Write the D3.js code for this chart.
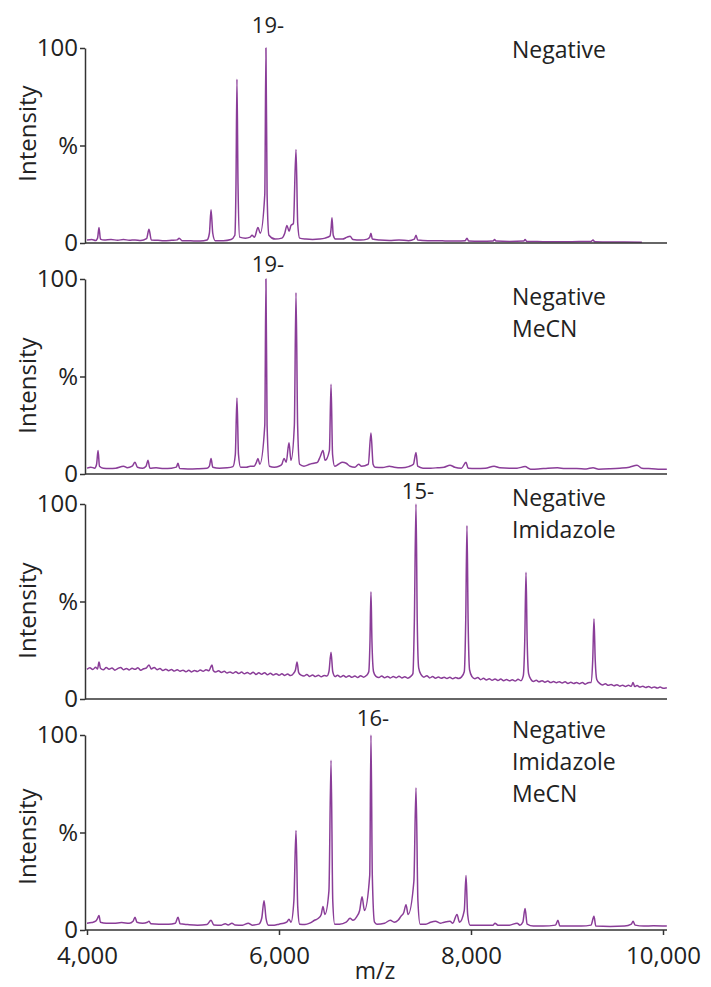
<!DOCTYPE html>
<html>
<head>
<meta charset="utf-8">
<script src="https://cdn.jsdelivr.net/npm/d3@7"></script>
<style>
  body { margin: 0; background: #fff; }
  svg text { font-family: "Open Sans", "Noto Sans", sans-serif; fill: #222; }
</style>
</head>
<body>
<svg class="js-graph" width="711" height="987"></svg>
<script>
(function myModule(d3) {
  /* <DATA> [m/z, intensity %] */
  var negative = [
    [4000, 1.5], [4050, 1.8], [4090, 1.3], [4110, 2.5], [4125, 8], [4140, 2], [4180, 1.5], [4250, 1.8],
    [4320, 1.4], [4380, 1.8], [4440, 1.4], [4500, 1.6], [4560, 1.3], [4620, 2.2], [4646, 7], [4670, 1.5],
    [4740, 1.4], [4800, 1.2], [4880, 1.4], [4940, 1.6], [4960, 2.5], [4990, 1.2], [5080, 1.1], [5180, 1],
    [5250, 1.5], [5275, 5], [5292, 17], [5310, 5], [5335, 1.2], [5420, 1.2], [5500, 1.8], [5540, 4],
    [5552, 30], [5562, 84], [5573, 30], [5590, 3], [5650, 2.5], [5700, 3], [5719, 4], [5745, 3],
    [5781, 8], [5805, 5], [5852, 25], [5864, 100], [5876, 25], [5895, 4], [5960, 2], [6030, 2.5],
    [6060, 5], [6083, 9], [6105, 6], [6125, 9], [6150, 10], [6177, 48], [6195, 10], [6215, 2.5],
    [6280, 2], [6350, 1.8], [6420, 2], [6480, 2.5], [6530, 3.5], [6542, 7], [6552, 13], [6565, 4],
    [6590, 2], [6660, 2], [6710, 3], [6740, 3.5], [6770, 1.8], [6850, 1.5], [6920, 2], [6945, 3],
    [6958, 5], [6972, 2], [7050, 1.5], [7150, 1.3], [7250, 1.5], [7350, 1.2], [7410, 2], [7427, 4],
    [7445, 1.5], [7550, 1.2], [7650, 1.2], [7750, 1], [7850, 1], [7940, 1.2], [7958, 2.5], [7975, 1],
    [8100, 0.9], [8230, 1], [8245, 1.8], [8260, 1], [8400, 0.8], [8550, 1], [8563, 1.8], [8580, 0.8],
    [8750, 0.7], [8900, 0.6], [9050, 0.7], [9250, 0.8], [9271, 1.5], [9290, 0.6], [9450, 0.5],
    [9600, 0.5], [9780, 0.4]
  ];

  var negativeMeCN = [
    [4000, 3], [4040, 3.5], [4080, 3], [4100, 5], [4115, 12], [4130, 4], [4170, 3], [4230, 2.8],
    [4300, 3], [4380, 4], [4420, 3.2], [4470, 4], [4500, 6], [4525, 3.5], [4580, 3], [4615, 4],
    [4635, 7], [4655, 3], [4720, 3.2], [4800, 2.8], [4880, 3], [4930, 3.5], [4948, 5.5], [4965, 2.8],
    [5050, 2.6], [5150, 2.7], [5250, 3], [5275, 4], [5292, 8], [5310, 3.5], [5380, 3], [5460, 3.2],
    [5520, 3.8], [5545, 10], [5562, 39], [5578, 10], [5600, 3.5], [5660, 3.5], [5700, 4], [5740, 4],
    [5765, 6], [5781, 8], [5800, 5], [5852, 25], [5864, 100], [5876, 25], [5900, 4], [5950, 3.5],
    [6000, 4], [6030, 5], [6052, 8], [6075, 6], [6104, 16], [6125, 7], [6160, 25], [6177, 93],
    [6194, 25], [6215, 5], [6260, 4], [6320, 5], [6360, 5.5], [6400, 6], [6430, 9], [6458, 12],
    [6480, 7], [6525, 12], [6542, 46], [6558, 10], [6580, 4], [6620, 5], [6660, 6], [6700, 5.5],
    [6740, 4], [6790, 3.5], [6830, 5], [6860, 4], [6930, 5], [6958, 21], [6980, 5], [7000, 3.5],
    [7080, 3.3], [7150, 4], [7200, 3.5], [7280, 3.2], [7350, 3.8], [7400, 5], [7427, 11], [7445, 4],
    [7500, 3], [7580, 3], [7650, 3.2], [7720, 3.5], [7781, 4.5], [7830, 3.5], [7900, 3], [7948, 6],
    [7970, 3], [8050, 2.8], [8150, 3], [8240, 4], [8300, 3.2], [8400, 3], [8480, 3], [8563, 3.8],
    [8620, 2.5], [8700, 2.6], [8800, 3], [8900, 3.2], [8980, 2.8], [9100, 2.8], [9200, 2.6],
    [9271, 3.2], [9330, 2.5], [9450, 2.7], [9550, 3], [9650, 3.5], [9729, 4.5], [9780, 3],
    [9850, 2.8], [9950, 2.5], [10040, 2.5]
  ];

  var negativeImidazole = [
    [4000, 15.2], [4030, 16.0], [4060, 15.1], [4090, 16.3], [4110, 15.4], [4125, 19], [4140, 15.8],
    [4170, 15.0], [4200, 16.1], [4230, 15.3], [4260, 15.9], [4290, 14.8], [4320, 15.6], [4350, 16.2],
    [4380, 15.0], [4410, 15.7], [4440, 14.9], [4470, 15.8], [4500, 15.2], [4530, 16.0], [4560, 14.7],
    [4590, 15.5], [4620, 16.0], [4646, 17.5], [4670, 15.4], [4700, 16.2], [4730, 15.0], [4760, 15.6],
    [4790, 14.6], [4820, 15.3], [4850, 14.5], [4880, 15.1], [4910, 14.3], [4940, 15.0], [4970, 14.2],
    [5000, 14.8], [5030, 14.0], [5060, 14.7], [5090, 13.9], [5120, 14.6], [5150, 14.1], [5180, 14.9],
    [5210, 14.2], [5240, 15.0], [5270, 14.5], [5290, 16.5], [5302, 17.5], [5315, 14.6], [5340, 13.8],
    [5370, 14.5], [5400, 13.6], [5430, 14.2], [5460, 13.3], [5490, 13.9], [5520, 13.2], [5550, 14.0],
    [5580, 13.1], [5610, 13.8], [5640, 12.9], [5670, 13.6], [5700, 12.8], [5730, 13.7], [5760, 12.6],
    [5790, 13.4], [5820, 12.7], [5850, 13.5], [5880, 12.4], [5910, 13.2], [5940, 12.3], [5970, 13.0],
    [6000, 12.2], [6030, 12.9], [6060, 12.1], [6090, 12.8], [6120, 12.0], [6150, 13.0], [6172, 15],
    [6188, 19], [6205, 13.5], [6230, 12.2], [6260, 11.8], [6290, 12.6], [6320, 11.6], [6350, 12.3],
    [6380, 11.5], [6410, 12.2], [6440, 11.4], [6470, 12.1], [6500, 11.8], [6520, 14], [6542, 24],
    [6560, 14], [6585, 11.5], [6610, 12.2], [6640, 11.3], [6670, 12.0], [6700, 11.2], [6730, 11.9],
    [6760, 11.1], [6790, 11.8], [6820, 11.0], [6850, 11.9], [6880, 11.2], [6910, 12.0], [6935, 14],
    [6948, 30], [6958, 55], [6968, 30], [6985, 14], [7010, 11.6], [7040, 11.0], [7070, 11.8],
    [7100, 10.9], [7130, 11.6], [7160, 10.8], [7190, 11.5], [7220, 10.9], [7250, 11.7], [7280, 10.8],
    [7310, 11.4], [7340, 10.7], [7370, 11.5], [7395, 13], [7410, 40], [7427, 100], [7440, 40],
    [7455, 16], [7480, 12.5], [7510, 11.2], [7540, 11.9], [7570, 10.8], [7600, 11.5], [7630, 10.7],
    [7660, 11.3], [7690, 10.6], [7720, 11.2], [7750, 10.5], [7780, 11.1], [7810, 10.4], [7840, 11.0],
    [7870, 10.5], [7900, 11.2], [7930, 14], [7945, 40], [7958, 89], [7970, 40], [7985, 15],
    [8010, 11.5], [8040, 10.4], [8070, 11.0], [8100, 9.9], [8130, 10.6], [8160, 9.8], [8190, 10.4],
    [8220, 9.6], [8250, 10.3], [8280, 9.5], [8310, 10.2], [8340, 9.4], [8370, 10.0], [8400, 9.3],
    [8430, 9.9], [8460, 9.2], [8490, 10.1], [8520, 9.4], [8545, 12], [8560, 30], [8573, 65],
    [8585, 30], [8600, 13], [8625, 10.0], [8650, 9.0], [8680, 9.6], [8710, 8.8], [8740, 9.4],
    [8770, 8.6], [8800, 9.2], [8830, 8.4], [8860, 9.0], [8890, 8.3], [8920, 8.9], [8950, 8.2],
    [8980, 8.8], [9010, 8.0], [9040, 8.6], [9070, 7.9], [9100, 8.5], [9130, 7.8], [9160, 8.4],
    [9190, 7.6], [9220, 8.3], [9250, 8.5], [9268, 20], [9281, 41], [9294, 20], [9310, 10],
    [9340, 8.0], [9370, 7.2], [9400, 7.8], [9430, 7.0], [9460, 7.5], [9490, 6.8], [9520, 7.3],
    [9550, 6.6], [9580, 7.1], [9610, 6.4], [9640, 7.0], [9670, 6.5], [9688, 8.5], [9705, 6.4],
    [9730, 6.9], [9760, 6.1], [9790, 6.6], [9820, 5.9], [9850, 6.4], [9880, 5.7], [9910, 6.2],
    [9940, 5.6], [9970, 6.1], [10000, 5.5], [10040, 5.8]
  ];

  var negativeImidazoleMeCN = [
    [4000, 3.5], [4050, 3.8], [4090, 4.5], [4110, 6], [4125, 7.5], [4140, 4], [4200, 3.5], [4280, 3.5],
    [4360, 3.8], [4440, 3.5], [4480, 4.5], [4500, 6.5], [4520, 4], [4580, 3.5], [4630, 4], [4646, 4.5],
    [4665, 3.2], [4750, 3], [4850, 3], [4920, 3.5], [4948, 6.5], [4970, 3.2], [5050, 2.8], [5150, 2.5],
    [5250, 2.8], [5292, 5], [5320, 2.6], [5400, 2.5], [5440, 3.2], [5470, 2.6], [5510, 3.5], [5540, 2.6],
    [5620, 2.5], [5680, 3.5], [5720, 2.5], [5790, 3], [5820, 6], [5844, 15], [5865, 6], [5890, 2.5],
    [5950, 2.5], [6000, 3], [6050, 3.5], [6080, 4], [6104, 5.5], [6125, 4], [6155, 15], [6177, 51],
    [6195, 12], [6215, 3], [6270, 2.8], [6320, 3.5], [6370, 5], [6410, 6], [6440, 8], [6458, 12],
    [6478, 8], [6520, 20], [6542, 87], [6560, 15], [6580, 3], [6630, 3], [6700, 4], [6740, 6],
    [6770, 5], [6812, 7], [6840, 10], [6865, 17], [6890, 10], [6945, 28], [6958, 100], [6972, 28],
    [6995, 4], [7020, 3], [7100, 3.5], [7160, 5], [7200, 4], [7240, 5], [7270, 7], [7300, 9],
    [7323, 13], [7345, 8], [7405, 25], [7427, 73], [7447, 15], [7470, 3], [7530, 3], [7580, 4],
    [7630, 4.5], [7680, 3.5], [7720, 4], [7781, 4.5], [7810, 3.5], [7854, 8], [7880, 4], [7930, 10],
    [7948, 28], [7965, 8], [7990, 2.5], [8100, 2.5], [8230, 2.5], [8250, 3.5], [8280, 2.5], [8400, 2.5],
    [8480, 3.5], [8510, 2.5], [8540, 4], [8563, 11], [8585, 3], [8650, 2], [8750, 2], [8880, 2.5],
    [8906, 5], [8925, 2], [9050, 2], [9150, 2], [9250, 2.5], [9281, 7], [9300, 2], [9450, 1.8],
    [9600, 2], [9670, 3], [9688, 4.5], [9710, 2.5], [9800, 2], [9900, 2.2], [10040, 2]
  ];

  var spectra = [negative, negativeMeCN, negativeImidazole, negativeImidazoleMeCN];
  var conditions = [['Negative'], ['Negative', 'MeCN'], ['Negative', 'Imidazole'], ['Negative', 'Imidazole', 'MeCN']];
  var chargeLabels = ['19-', '19-', '15-', '16-'];
  var chargeMz = [5864, 5864, 7427, 6958];
  var xTicks = [4000, 6000, 8000, 10000];
  var yTicks = [0, 50, 100];
  var yTickLabels = ['0', '%', '100'];
  /* </DATA> */

  // layout, in pixels
  var panelTops = [48, 279, 504, 735];
  var panelHeight = 195;
  var chargeDy = [-15, -7, -5, -9];
  var conditionDy = [10, 26, 2, 3];
  var intensityDy = [-12, 9, 9, 4];
  var axisLeft = 85;
  var axisRight = 667;
  var lineColor = '#8a3d98';

  var svg = d3.select('.js-graph');

  var xScale = d3.scaleLinear()
    .domain([4000, 10000])
    .range([87, 663]);

  var line = d3.line()
    .curve(d3.curveMonotoneX)
    .x(function (d) { return xScale(d[0]); });

  spectra.forEach(function drawPanel(spectrum, i) {
    var top = panelTops[i];
    var bottom = top + panelHeight;
    var yScale = d3.scaleLinear().domain([0, 100]).range([bottom, top]);
    var g = svg.append('g').attr('class', 'panel');

    // spectrum trace
    g.append('path')
      .attr('d', line.y(function (d) { return yScale(d[1]); })(spectrum))
      .attr('fill', 'none')
      .attr('stroke', lineColor)
      .attr('stroke-width', 1.5)
      .attr('stroke-linejoin', 'round');

    // y axis
    var yAxis = d3.axisLeft(yScale)
      .tickValues(yTicks)
      .tickFormat(function (d, k) { return yTickLabels[k]; })
      .tickSize(5)
      .tickSizeOuter(0)
      .tickPadding(2);
    var yG = g.append('g')
      .attr('transform', 'translate(' + axisLeft + ',0)')
      .call(yAxis);
    yG.selectAll('path, line').attr('stroke', '#333').attr('stroke-width', 1.5);
    yG.selectAll('text').style('font-size', '24px').attr('fill', '#222');

    // baseline (x axis line)
    g.append('line')
      .attr('x1', axisLeft).attr('x2', axisRight)
      .attr('y1', bottom).attr('y2', bottom)
      .attr('stroke', '#333')
      .attr('stroke-width', 1.5);

    // Intensity label
    g.append('text')
      .attr('transform', 'translate(26,' + (top + panelHeight / 2 + intensityDy[i]) + ') rotate(-90)')
      .attr('text-anchor', 'middle')
      .attr('dominant-baseline', 'central')
      .style('font-size', '24px')
      .text('Intensity');

    // charge state label over the base peak
    g.append('text')
      .attr('x', xScale(chargeMz[i]) + 2)
      .attr('y', top + chargeDy[i])
      .attr('text-anchor', 'middle')
      .style('font-size', '22px')
      .text(chargeLabels[i]);

    // condition label
    g.append('text')
      .attr('x', 512)
      .attr('y', top + conditionDy[i])
      .style('font-size', '23px')
      .selectAll('tspan')
      .data(conditions[i])
      .enter()
      .append('tspan')
      .attr('x', 512)
      .attr('dy', function (d, k) { return k === 0 ? 0 : 32; })
      .text(function (d) { return d; });

    // ticks and m/z only on the bottom panel
    if (i === spectra.length - 1) {
      var xAxis = d3.axisBottom(xScale)
        .tickValues(xTicks)
        .tickFormat(d3.format(','))
        .tickSize(5)
        .tickPadding(12);
      var xG = g.append('g')
        .attr('transform', 'translate(0,' + bottom + ')')
        .call(xAxis);
      xG.select('.domain').remove();
      xG.selectAll('line').attr('stroke', '#333').attr('stroke-width', 1.5);
      xG.selectAll('text').style('font-size', '24px').attr('fill', '#222');

      g.append('text')
        .attr('x', (87 + 663) / 2)
        .attr('y', 979)
        .attr('text-anchor', 'middle')
        .style('font-size', '23px')
        .text('m/z');
    }
  });
}(d3));
</script>
</body>
</html>
